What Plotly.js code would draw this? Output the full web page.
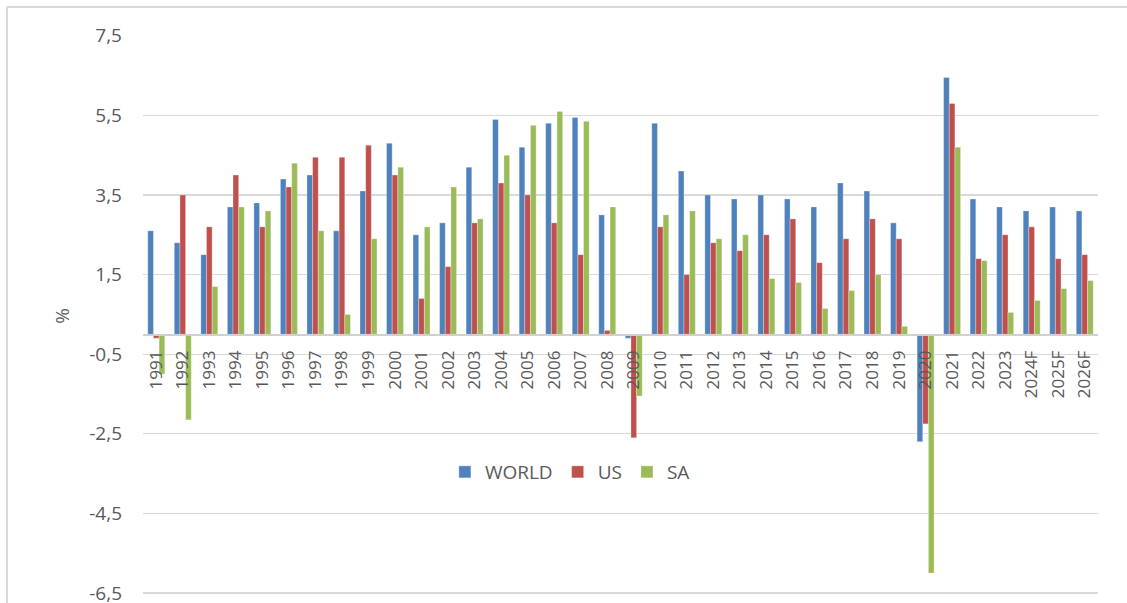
<!DOCTYPE html>
<html>
<head>
<meta charset="utf-8">
<script src="https://cdn.plot.ly/plotly-3.0.1.min.js"></script>
<style>
  html, body { margin: 0; padding: 0; background: #ffffff; }
  #chart { width: 1127px; height: 603px; }
</style>
</head>
<body>
<div id="chart"></div>
<script>
// Real GDP growth, % year on year
const years = ["1991","1992","1993","1994","1995","1996","1997","1998","1999","2000",
  "2001","2002","2003","2004","2005","2006","2007","2008","2009","2010",
  "2011","2012","2013","2014","2015","2016","2017","2018","2019","2020",
  "2021","2022","2023","2024F","2025F","2026F"];

const world = [2.6, 2.3, 2.0, 3.2, 3.3, 3.9, 4.0, 2.6, 3.6, 4.8,
  2.5, 2.8, 4.2, 5.4, 4.7, 5.3, 5.45, 3.0, -0.1, 5.3,
  4.1, 3.5, 3.4, 3.5, 3.4, 3.2, 3.8, 3.6, 2.8, -2.7,
  6.45, 3.4, 3.2, 3.1, 3.2, 3.1];

const us = [-0.1, 3.5, 2.7, 4.0, 2.7, 3.7, 4.45, 4.45, 4.75, 4.0,
  0.9, 1.7, 2.8, 3.8, 3.5, 2.8, 2.0, 0.1, -2.6, 2.7,
  1.5, 2.3, 2.1, 2.5, 2.9, 1.8, 2.4, 2.9, 2.4, -2.25,
  5.8, 1.9, 2.5, 2.7, 1.9, 2.0];

const sa = [-1.0, -2.15, 1.2, 3.2, 3.1, 4.3, 2.6, 0.5, 2.4, 4.2,
  2.7, 3.7, 2.9, 4.5, 5.25, 5.6, 5.35, 3.2, -1.55, 3.0,
  3.1, 2.4, 2.5, 1.4, 1.3, 0.65, 1.1, 1.5, 0.2, -6.0,
  4.7, 1.85, 0.55, 0.85, 1.15, 1.35];

const yTicks = [-6.5, -4.5, -2.5, -0.5, 1.5, 3.5, 5.5, 7.5];

const textGray = "#595959";
const gridGray = "#d9d9d9";
const fontFamily = "'Open Sans', 'Liberation Sans', sans-serif";

function series(name, values, color) {
  return {
    type: "bar",
    name: name,
    x: years,
    y: values,
    marker: { color: color, line: { color: "rgba(255,255,255,0.6)", width: 0.5 } },
    hoverinfo: "x+y+name"
  };
}

const data = [
  series("WORLD", world, "#4F81BD"),
  series("US", us, "#C0504D"),
  series("SA", sa, "#9BBB59")
];

// padded range so the outermost gridlines and labels are kept
const yMin = -6.6, yMax = 7.52;
const plotH = 562;   // 603 - t - b

const layout = {
  width: 1127,
  height: 603,
  margin: { l: 143, r: 29, t: 35, b: 6, pad: 0 },
  paper_bgcolor: "#ffffff",
  plot_bgcolor: "#ffffff",
  separators: ", ",
  font: { family: fontFamily, color: textGray, size: 17 },
  barmode: "group",
  bargap: 0.36,
  bargroupgap: 0,
  showlegend: true,
  legend: {
    orientation: "h",
    x: 0.447,
    xanchor: "center",
    y: (597 - 472) / plotH,
    yanchor: "middle",
    font: { family: fontFamily, color: textGray, size: 19 },
    bgcolor: "rgba(0,0,0,0)",
    traceorder: "normal"
  },
  xaxis: {
    type: "category",
    anchor: "free",
    position: (0 - yMin) / (yMax - yMin),
    showline: true,
    linecolor: "#d0d0d0",
    linewidth: 1.5,
    showgrid: false,
    ticks: "",
    tickangle: -90,
    ticklabelstandoff: 8,
    tickfont: { family: fontFamily, color: textGray, size: 17 },
    automargin: false,
    fixedrange: true
  },
  yaxis: {
    range: [yMin, yMax],
    tickmode: "array",
    tickvals: yTicks,
    ticktext: yTicks.map(v => v.toFixed(1).replace(".", ",")),
    showgrid: true,
    gridcolor: gridGray,
    gridwidth: 1.3,
    zeroline: false,
    showline: false,
    ticks: "",
    ticklabelstandoff: 20,
    ticklabeloverflow: "allow",
    tickfont: { family: fontFamily, color: textGray, size: 19 },
    title: { text: "%", font: { family: fontFamily, color: textGray, size: 19 }, standoff: 14 },
    automargin: false,
    fixedrange: true
  },
  shapes: [
    // chart-area frame: top and left edges
    { type: "line", xref: "paper", yref: "paper",
      x0: -136 / 955, x1: 984 / 955, y0: 590 / plotH, y1: 590 / plotH,
      line: { color: "#d9d9d9", width: 2 } },
    { type: "line", xref: "paper", yref: "paper",
      x0: -136 / 955, x1: -136 / 955, y0: -20 / plotH, y1: 590 / plotH,
      line: { color: "#d9d9d9", width: 2 } }
  ]
};

Plotly.newPlot("chart", data, layout, { displayModeBar: false, staticPlot: true });
</script>
</body>
</html>
